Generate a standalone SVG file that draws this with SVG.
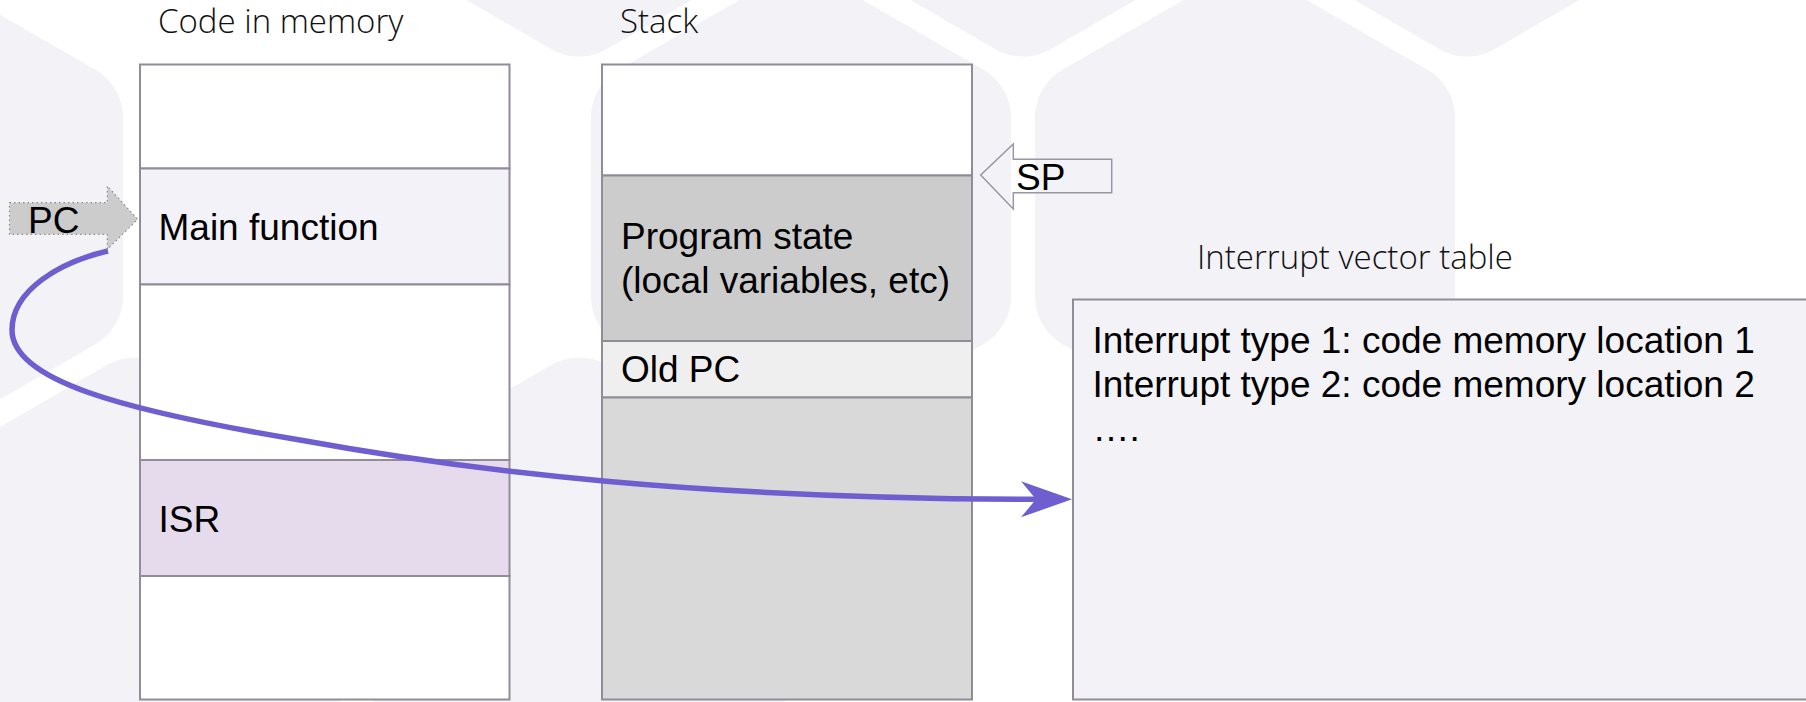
<svg xmlns="http://www.w3.org/2000/svg" width="1806" height="702" viewBox="0 0 1806 702">
<style>
.hex{fill:#f2f2f7;stroke:#f2f2f7;stroke-width:110;stroke-linejoin:round}
.box{stroke:#908c98;stroke-width:2}
.title{font-family:"Open Sans","Liberation Sans",sans-serif;font-weight:300;font-size:33px;fill:#111}
.lbl{font-family:"Liberation Sans",Arial,sans-serif;font-size:37px;fill:#000}
.curve{fill:none;stroke:#6e5ecf;stroke-width:5.5}
</style>
<defs>
<polygon id="hx" points="0,-179 155,-89.5 155,89.5 0,179 -155,89.5 -155,-89.5"/>
<marker id="ah" markerUnits="userSpaceOnUse" markerWidth="60" markerHeight="40" viewBox="-20 -20 60 40" refX="0" refY="0" orient="auto">
<path d="M32,0 L-19,-18 L-4,0 L-19,18 Z" fill="#6e5ecf"/>
</marker>
</defs>
<rect width="1806" height="702" fill="#ffffff"/>
<g id="background">
<use href="#hx" class="hex" transform="translate(579,-177.5)"/>
<use href="#hx" class="hex" transform="translate(1023,-177.5)"/>
<use href="#hx" class="hex" transform="translate(1467,-177.5)"/>
<use href="#hx" class="hex" transform="translate(-87,207)"/>
<use href="#hx" class="hex" transform="translate(801,207)"/>
<use href="#hx" class="hex" transform="translate(1245,207)"/>
<use href="#hx" class="hex" transform="translate(135,591.5)"/>
<use href="#hx" class="hex" transform="translate(579,591.5)"/>
</g>
<g id="titles">
<text class="title" x="158" y="33">Code in memory</text>
<text class="title" x="620" y="33">Stack</text>
<text class="title" x="1197" y="269">Interrupt vector table</text>
</g>
<g id="code-memory">
<rect class="box" x="140" y="64.5" width="369.5" height="104" fill="#ffffff"/>
<rect class="box" x="140" y="168.5" width="369.5" height="116" fill="#f3f2f8"/>
<rect class="box" x="140" y="284.5" width="369.5" height="175.5" fill="#ffffff"/>
<rect class="box" x="140" y="460" width="369.5" height="116" fill="#e5dbed"/>
<rect class="box" x="140" y="576" width="369.5" height="123.5" fill="#ffffff"/>
<text class="lbl" x="158.5" y="240">Main function</text>
<text class="lbl" x="158.5" y="532">ISR</text>
</g>
<g id="stack">
<rect class="box" x="602" y="64.5" width="370" height="111" fill="#ffffff"/>
<rect class="box" x="602" y="175.5" width="370" height="165.5" fill="#cccccc"/>
<rect class="box" x="602" y="341" width="370" height="56.5" fill="#efefef"/>
<rect class="box" x="602" y="397.5" width="370" height="302" fill="#d9d9d9"/>
<text class="lbl" x="621" y="249">Program state</text>
<text class="lbl" x="621" y="293">(local variables, etc)</text>
<text class="lbl" x="621" y="382">Old PC</text>
</g>
<g id="interrupt-vector-table">
<rect class="box" x="1073" y="299.5" width="760" height="400" fill="#f3f2f7"/>
<text class="lbl" x="1092.5" y="353">Interrupt type 1: code memory location 1</text>
<text class="lbl" x="1092.5" y="397">Interrupt type 2: code memory location 2</text>
<text class="lbl" x="1092.5" y="441">….</text>
</g>
<g id="pc-pointer">
<path d="M9.5,202.7 H107.3 V186 L137.7,219.3 L107.3,249.3 V234.3 H9.5 Z" fill="#cccccc" stroke="#8a8a8a" stroke-width="1.2" stroke-dasharray="1.5,3"/>
<text class="lbl" x="28" y="233">PC</text>
</g>
<g id="sp-pointer">
<path d="M1111.7,159.3 H1013.3 V144 L980.7,175 L1013.3,209 V192.7 H1111.7 Z" fill="none" stroke="#9a96a2" stroke-width="1.5"/>
<text class="lbl" x="1016" y="190">SP</text>
</g>
<g id="connectors">
<path class="curve" d="M108,251 C60,262 12,290 12,330 C12,380 120,410 300,440 C470,471 700,499 1040,499.3" marker-end="url(#ah)"/>
</g>
</svg>
